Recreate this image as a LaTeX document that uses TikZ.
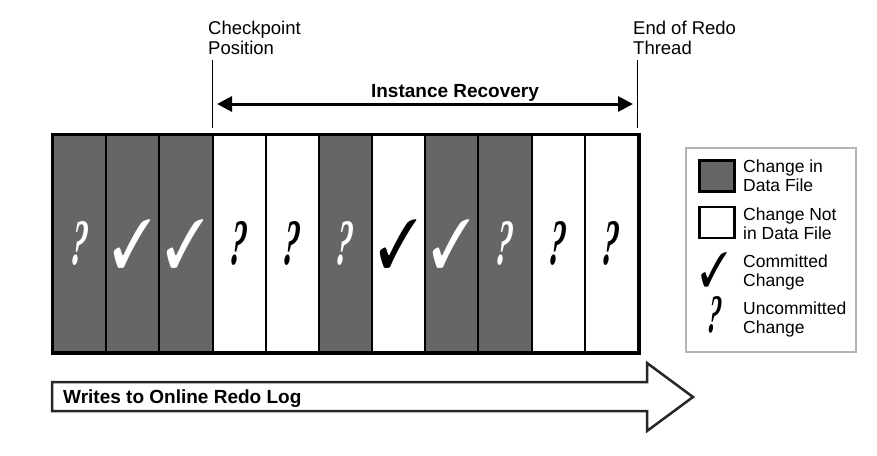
\documentclass[tikz,border=0pt]{standalone}
\usepackage{fontspec}
\setmainfont{Liberation Sans}
\newfontfamily\qfont{Liberation Serif}
\usepackage{pifont}
\usepackage{graphicx}
\usetikzlibrary{arrows.meta}
\definecolor{dk}{HTML}{666666}
\definecolor{lg}{HTML}{B4B4B4}
\definecolor{arr}{HTML}{262626}
\newcommand\qglyph{{\qfont\bfseries\itshape ?}}
\newcommand\cglyph{\ding{51}}
\newcommand\qmk[1]{\resizebox{16pt}{43pt}{\color{#1}\qglyph}}
\newcommand\ckm[1]{\resizebox{40pt}{48pt}{\color{#1}\cglyph}}
\newcommand\lqmk{\resizebox{13pt}{36pt}{\qglyph}}
\newcommand\lckm{\resizebox{28pt}{34pt}{\cglyph}}
\tikzset{
  lbl/.style={anchor=north west, inner sep=0pt, align=left, font=\fontsize{18.5}{19.5}\selectfont},
  leglbl/.style={anchor=north west, inner sep=0pt, align=left, font=\fontsize{17.5}{19}\selectfont},
  col/.style={draw=black, line width=2pt, minimum width=53.18pt, minimum height=217pt, inner sep=0pt, anchor=center},
  sym/.style={inner sep=0pt},
  qsl/.style={xslant=0.12},
  csl/.style={},
  tick/.style={line width=1pt},
  legsq/.style={draw=black, line width=2.5pt, minimum width=35pt, minimum height=31pt, inner sep=0pt},
}
\begin{document}
\begin{tikzpicture}[x=1pt,y=-1pt]
\useasboundingbox (0,0) rectangle (877,455);

% columns
\foreach \i/\fc/\sym/\sl in {1/dk/\qmk{white}/qsl,2/dk/\ckm{white}/csl,3/dk/\ckm{white}/csl,4/white/\qmk{black}/qsl,5/white/\qmk{black}/qsl,6/dk/\qmk{white}/qsl,7/white/\ckm{black}/csl,8/dk/\ckm{white}/csl,9/dk/\qmk{white}/qsl,10/white/\qmk{black}/qsl,11/white/\qmk{black}/qsl}{
  \node[col, fill=\fc] (c\i) at ({53+(\i-0.5)*53.1818},243.5) {};
  \node[sym, \sl] (s\i) at (c\i.center) {\sym};
}
\draw[line width=3pt] (c1.north west) rectangle (c11.south east);

% checkpoint and end lines
\coordinate (cpT) at (212,60);
\coordinate (cpB) at (212,128);
\coordinate (enT) at (637,60);
\coordinate (enB) at (637,128);
\draw[tick] (cpT) -- (cpB);
\draw[tick] (enT) -- (enB);
\node[lbl] (cp) at (208,21) {Checkpoint\\Position};
\node[lbl] (en) at (633,21) {End of Redo\\Thread};

% instance recovery arrow
\coordinate (ra) at (217,104);
\coordinate (rb) at (633,104);
\draw[line width=3pt, {Triangle[length=15pt,width=15pt]}-{Triangle[length=15pt,width=15pt]}] (ra) -- (rb);
\node[anchor=base, inner sep=0pt, font=\fontsize{19}{19}\selectfont\bfseries] (ir) at (455,97) {Instance Recovery};

% legend
\node[draw=lg, line width=2pt, minimum width=170pt, minimum height=204pt, inner sep=0pt] (leg) at (771,250) {};
\node[legsq, fill=dk] (lsq1) at (717,176) {};
\node[legsq, fill=white] (lsq2) at (717,222.5) {};
\node[sym] (lck) at (714,270) {\lckm};
\node[sym, qsl] (lq) at (715,315) {\lqmk};
\node[leglbl] (lt1) at (743,160) {Change in\\Data File};
\node[leglbl] (lt2) at (743,208) {Change Not\\in Data File};
\node[leglbl] (lt3) at (743,255) {Committed\\Change};
\node[leglbl] (lt4) at (743,302) {Uncommitted\\Change};

% big arrow
\draw[draw=arr, line width=2.5pt, line join=miter, fill=white]
  (52,382) -- (647,382) -- (647,363) -- (693,397) -- (647,431) -- (647,411) -- (52,411) -- cycle;
\node[anchor=base west, inner sep=0pt, font=\fontsize{19}{19}\selectfont\bfseries] (wr) at (63,403) {Writes to Online Redo Log};
\end{tikzpicture}
\end{document}
